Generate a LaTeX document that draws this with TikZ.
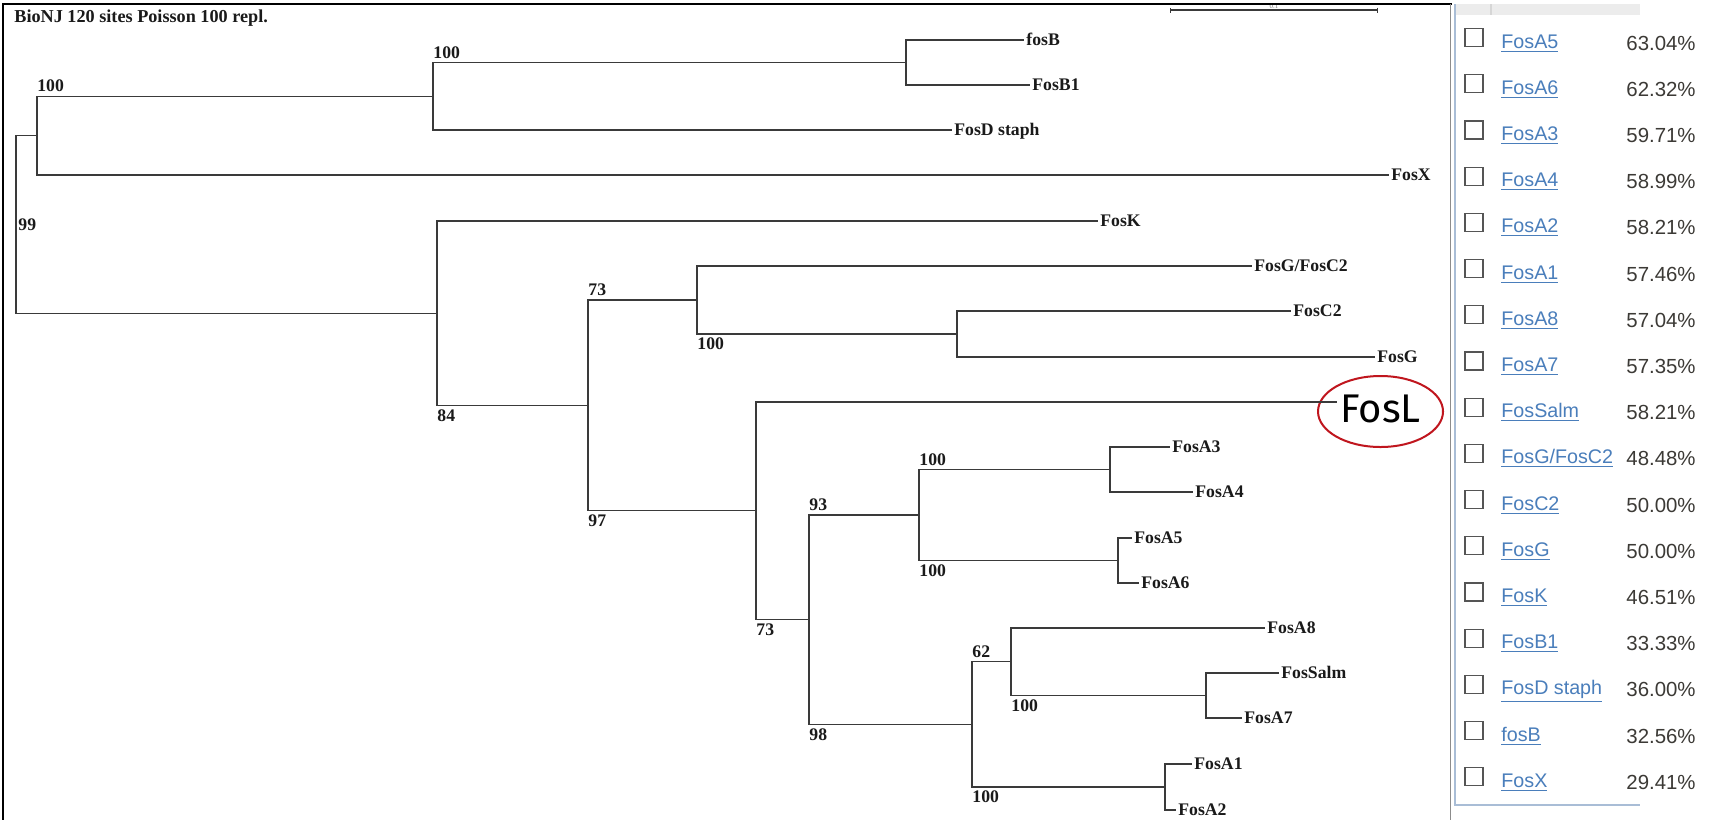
\documentclass[tikz,border=0pt]{standalone}
\usepackage{fontspec}
\usepackage{tikz}
\usetikzlibrary{shapes.geometric, arrows.meta}
\setmainfont{Liberation Serif}
\newfontfamily\panelfont{Liberation Sans}
\newfontfamily\handfont{Fira Sans}
\definecolor{treeink}{HTML}{1A1A1A}
\definecolor{branchgray}{HTML}{3A3A3A}
\definecolor{linkblue}{HTML}{4A7EBB}
\definecolor{pctgray}{HTML}{3C3A36}
\definecolor{boxgray}{HTML}{555555}
\definecolor{circred}{HTML}{C0161E}
\definecolor{panelline}{HTML}{A9BDD6}
\definecolor{headfill}{HTML}{ECECEC}
\definecolor{headsep}{HTML}{D6D6D6}
\definecolor{edgegray}{HTML}{8C8C8C}
\tikzset{
  % tree branches (elbow lines)
  branch/.style={draw=branchgray, line width=0.6pt},
  % leaf names, line ends at the west anchor
  leaf/.style={anchor=west, inner xsep=1pt, inner ysep=0pt,
               text height=5.9pt, text depth=0pt, text=treeink,
               font=\fontsize{8.85}{10}\selectfont\bfseries},
  % bootstrap values
  boot/.style={inner sep=0pt, text=treeink,
               font=\fontsize{8.85}{10}\selectfont\bfseries},
  bootup/.style={boot, anchor=south west},
  bootdn/.style={boot, anchor=north west},
  % highlighted leaf
  fosL/.style={ellipse, draw=circred, line width=1pt,
               minimum width=62.5pt, minimum height=35.5pt, inner sep=0pt,
               text depth=3pt, font=\handfont\fontsize{20}{24}\selectfont},
  % frame and scale bar
  frame/.style={draw=black, line width=1pt},
  scalebar/.style={draw=branchgray, line width=0.6pt,
                   {Bar[width=2.5pt]}-{Bar[width=2.5pt]}},
  % hit list panel
  chkbox/.style={rectangle, draw=boxgray, line width=0.6pt,
                 minimum size=9pt, inner sep=0pt},
  hitname/.style={anchor=base west, inner sep=0pt, text=linkblue,
                  font=\panelfont\fontsize{9.85}{11}\selectfont},
  hitpct/.style={anchor=base west, inner sep=0pt, text=pctgray,
                 font=\panelfont\fontsize{10.2}{12}\selectfont},
}
\begin{document}
\begin{tikzpicture}[x=0.5pt, y=-0.5pt]

\fill[white] (0,0) rectangle (1711,820);
\useasboundingbox (0,0) rectangle (1711,820);

% ── Title and scale ──────────────────────────────────────────────────────────
\node[anchor=base west, inner sep=0pt, text=treeink,
      font=\fontsize{9.1}{11}\selectfont\bfseries] (ttl) at (14,22)
  {BioNJ 120 sites Poisson 100 repl.};
\coordinate (sbL) at (1170,10);
\coordinate (sbR) at (1378,10);
\draw[scalebar] (sbL) -- (sbR)
  node[midway, above=0.3pt, inner sep=0pt, text=gray,
       font=\fontsize{3.5}{4}\selectfont] (sblab) {0.1};

% ── Frame ────────────────────────────────────────────────────────────────────
\draw[frame] (1452,4) -- (3,4) -- (3,820);
\draw[draw=edgegray, line width=0.5pt] (1450.5,4) -- (1450.5,820);

% ── Internal nodes ───────────────────────────────────────────────────────────
\coordinate (root) at (16, 224.4);
\coordinate (nA)   at (37, 135.6);
\coordinate (nBD)  at (433, 96.25);
\coordinate (nC)   at (906, 62.5);
\coordinate (n84)  at (437, 313.2);
\coordinate (n97)  at (588, 405.4);
\coordinate (nGC)  at (697, 300);
\coordinate (nGC2) at (957, 334);
\coordinate (nL)   at (756, 510.85);
\coordinate (n93)  at (809, 619.7);
\coordinate (nA36) at (919, 515);
\coordinate (nA34) at (1110, 469.5);
\coordinate (nA56) at (1118, 560.5);
\coordinate (n62)  at (972, 724.4);
\coordinate (nA8)  at (1011, 661.75);
\coordinate (nSA7) at (1206, 695.5);
\coordinate (nA12) at (1165, 787);

% ── Leaves ───────────────────────────────────────────────────────────────────
\node[leaf] (lfosB)  at (1024, 40)  {fosB};
\node[leaf] (lfosBi) at (1030, 85)  {FosB1};
\node[leaf] (lfosD)  at (952, 130)  {FosD staph};
\node[leaf] (lfosX)  at (1389, 175) {FosX};
\node[leaf] (lfosK)  at (1098, 221) {FosK};
\node[leaf] (lfosGC) at (1252, 266) {FosG/FosC2};
\node[leaf] (lfosC)  at (1291, 311) {FosC2};
\node[leaf] (lfosG)  at (1375, 357) {FosG};
\coordinate (endL) at (1337, 402);
\node[fosL] (lfosL)  at (1380.5, 411.5) {FosL};
\node[leaf] (lA3)    at (1170, 447) {FosA3};
\node[leaf] (lA4)    at (1193, 492) {FosA4};
\node[leaf] (lA5)    at (1132, 538) {FosA5};
\node[leaf] (lA6)    at (1139, 583) {FosA6};
\node[leaf] (lA8)    at (1265, 628) {FosA8};
\node[leaf] (lSalm)  at (1279, 673) {FosSalm};
\node[leaf] (lA7)    at (1242, 718) {FosA7};
\node[leaf] (lA1)    at (1192, 764) {FosA1};
\node[leaf] (lA2)    at (1176, 810) {FosA2};

% ── Branches ─────────────────────────────────────────────────────────────────
% root
\draw[branch] (root) |- (nA);
\draw[branch] (root) |- (n84);

% fosB / FosD / FosX clade
\draw[branch] (nA) |- (nBD);
\draw[branch] (nA) |- (lfosX.west);
\draw[branch] (nBD) |- (nC);
\draw[branch] (nBD) |- (lfosD.west);
\draw[branch] (nC) |- (lfosB.west);
\draw[branch] (nC) |- (lfosBi.west);

% FosK and the rest
\draw[branch] (n84) |- (lfosK.west);
\draw[branch] (n84) |- (n97);
\draw[branch] (n97) |- (nGC);
\draw[branch] (n97) |- (nL);

% FosG / FosC2
\draw[branch] (nGC) |- (lfosGC.west);
\draw[branch] (nGC) |- (nGC2);
\draw[branch] (nGC2) |- (lfosC.west);
\draw[branch] (nGC2) |- (lfosG.west);

% FosL and FosA group
\draw[branch] (nL) |- (endL);
\draw[branch] (nL) |- (n93);
\draw[branch] (n93) |- (nA36);
\draw[branch] (n93) |- (n62);
\draw[branch] (nA36) |- (nA34);
\draw[branch] (nA36) |- (nA56);
\draw[branch] (nA34) |- (lA3.west);
\draw[branch] (nA34) |- (lA4.west);
\draw[branch] (nA56) |- (lA5.west);
\draw[branch] (nA56) |- (lA6.west);
\draw[branch] (n62) |- (nA8);
\draw[branch] (n62) |- (nA12);
\draw[branch] (nA8) |- (lA8.west);
\draw[branch] (nA8) |- (nSA7);
\draw[branch] (nSA7) |- (lSalm.west);
\draw[branch] (nSA7) |- (lA7.west);
\draw[branch] (nA12) |- (lA1.west);
\draw[branch] (nA12) |- (lA2.west);

% ── Bootstrap values ─────────────────────────────────────────────────────────
\node[boot, anchor=west] (bsRoot) at (18, 224.4) {99};
\node[bootup] (bsA)   at (37, 92.5)    {100};
\node[bootup] (bsBD)  at (433, 59)     {100};
\node[bootdn] (bs84)  at (437, 409)    {84};
\node[bootup] (bs73a) at (588, 296.5)  {73};
\node[bootdn] (bs97)  at (588, 514.4)  {97};
\node[bootdn] (bsGC)  at (697, 337.5)  {100};
\node[bootup] (bsA36) at (919, 466)    {100};
\node[bootup] (bs93)  at (809, 511.5)  {93};
\node[bootdn] (bsA56) at (919, 564)    {100};
\node[bootdn] (bs73b) at (756, 623.2)  {73};
\node[bootdn] (bs98)  at (809, 728)    {98};
\node[bootup] (bs62)  at (972, 658)    {62};
\node[bootdn] (bsSA)  at (1011, 699)   {100};
\node[bootdn] (bsA12) at (972, 790.5)  {100};

% ── Hit list panel ───────────────────────────────────────────────────────────
\fill[headfill] (1456,4) rectangle (1640,15);
\draw[draw=headsep, line width=0.6pt] (1491,4) -- (1491,15);
\draw[draw=panelline, line width=0.8pt] (1455,4) -- (1455,805) -- (1640,805);

\node[chkbox] (cb1) at (1474, 37.5) {};
\node[hitname] (hn1) at (1501, 48) {\underline{FosA5}};
\node[hitpct] (hp1) at (1626, 50) {63.04\%};

\node[chkbox] (cb2) at (1474, 83.7) {};
\node[hitname] (hn2) at (1501, 94.2) {\underline{FosA6}};
\node[hitpct] (hp2) at (1626, 96.2) {62.32\%};

\node[chkbox] (cb3) at (1474, 129.9) {};
\node[hitname] (hn3) at (1501, 140.4) {\underline{FosA3}};
\node[hitpct] (hp3) at (1626, 142.4) {59.71\%};

\node[chkbox] (cb4) at (1474, 176.1) {};
\node[hitname] (hn4) at (1501, 186.6) {\underline{FosA4}};
\node[hitpct] (hp4) at (1626, 188.6) {58.99\%};

\node[chkbox] (cb5) at (1474, 222.3) {};
\node[hitname] (hn5) at (1501, 232.8) {\underline{FosA2}};
\node[hitpct] (hp5) at (1626, 234.8) {58.21\%};

\node[chkbox] (cb6) at (1474, 268.5) {};
\node[hitname] (hn6) at (1501, 279) {\underline{FosA1}};
\node[hitpct] (hp6) at (1626, 281) {57.46\%};

\node[chkbox] (cb7) at (1474, 314.7) {};
\node[hitname] (hn7) at (1501, 325.2) {\underline{FosA8}};
\node[hitpct] (hp7) at (1626, 327.2) {57.04\%};

\node[chkbox] (cb8) at (1474, 360.9) {};
\node[hitname] (hn8) at (1501, 371.4) {\underline{FosA7}};
\node[hitpct] (hp8) at (1626, 373.4) {57.35\%};

\node[chkbox] (cb9) at (1474, 407.1) {};
\node[hitname] (hn9) at (1501, 417.6) {\underline{FosSalm}};
\node[hitpct] (hp9) at (1626, 419.6) {58.21\%};

\node[chkbox] (cb10) at (1474, 453.3) {};
\node[hitname] (hn10) at (1501, 463.8) {\underline{FosG/FosC2}};
\node[hitpct] (hp10) at (1626, 465.8) {48.48\%};

\node[chkbox] (cb11) at (1474, 499.5) {};
\node[hitname] (hn11) at (1501, 510) {\underline{FosC2}};
\node[hitpct] (hp11) at (1626, 512) {50.00\%};

\node[chkbox] (cb12) at (1474, 545.7) {};
\node[hitname] (hn12) at (1501, 556.2) {\underline{FosG}};
\node[hitpct] (hp12) at (1626, 558.2) {50.00\%};

\node[chkbox] (cb13) at (1474, 591.9) {};
\node[hitname] (hn13) at (1501, 602.4) {\underline{FosK}};
\node[hitpct] (hp13) at (1626, 604.4) {46.51\%};

\node[chkbox] (cb14) at (1474, 638.1) {};
\node[hitname] (hn14) at (1501, 648.6) {\underline{FosB1}};
\node[hitpct] (hp14) at (1626, 650.6) {33.33\%};

\node[chkbox] (cb15) at (1474, 684.3) {};
\node[hitname] (hn15) at (1501, 694.8) {\underline{FosD staph}};
\node[hitpct] (hp15) at (1626, 696.8) {36.00\%};

\node[chkbox] (cb16) at (1474, 730.5) {};
\node[hitname] (hn16) at (1501, 741) {\underline{fosB}};
\node[hitpct] (hp16) at (1626, 743) {32.56\%};

\node[chkbox] (cb17) at (1474, 776.7) {};
\node[hitname] (hn17) at (1501, 787.2) {\underline{FosX}};
\node[hitpct] (hp17) at (1626, 789.2) {29.41\%};

\end{tikzpicture}
\end{document}
